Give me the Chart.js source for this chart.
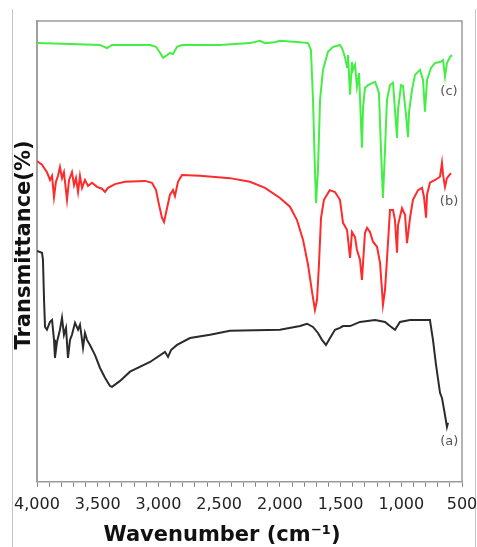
<!DOCTYPE html>
<html>
<head>
<meta charset="utf-8">
<script src="https://cdn.jsdelivr.net/npm/chart.js@4/dist/chart.umd.min.js"></script>
<style>
  body { margin: 0; background: #fff; }
  canvas { display: block; }
</style>
</head>
<body>
<canvas id="chart" width="477" height="547"></canvas>
<script>
// wavenumber (cm-1) and transmittance (arbitrary, no y ticks)
let waveA = [4000,3959,3951,3942,3934,3918,3893,3876,3860,3852,3835,3811,3794,3778,3761,3745,3728,3712,3687,3662,3646,3629,3621,3605,3588,3564,3522,3481,3440,3399,3382,3316,3234,3069,2946,2921,2896,2847,2740,2575,2411,1999,1834,1776,1727,1686,1653,1620,1587,1546,1505,1480,1422,1340,1216,1134,1093,1052,1011,928,764,739,714,681,665,640,624,615];
let transA = [50.1,49.7,48.2,39.5,33.6,33.0,34.7,35.1,30.8,26.9,30.4,33.0,35.6,31.9,33.4,26.9,30.8,31.9,34.5,33.0,34.1,30.8,29.1,32.3,30.8,29.7,27.5,24.7,22.6,20.8,20.6,21.9,23.9,26.0,28.2,27.1,28.6,29.7,31.2,31.9,32.8,33.0,33.8,34.3,33.6,32.3,30.8,29.7,31.2,33.0,33.4,33.8,33.8,34.7,35.1,34.7,33.8,33.0,34.7,35.1,35.1,30.8,25.4,19.3,18.2,14.5,11.9,12.8];

let waveB = [4000,3959,3918,3893,3876,3860,3844,3827,3811,3794,3778,3753,3736,3712,3695,3679,3662,3646,3629,3605,3580,3547,3506,3465,3440,3415,3358,3275,3111,3053,3020,2995,2971,2954,2929,2905,2880,2864,2839,2806,2658,2411,2246,2122,1999,1917,1859,1809,1768,1735,1711,1694,1678,1661,1637,1589,1546,1505,1480,1447,1422,1406,1381,1365,1340,1324,1299,1282,1258,1233,1200,1175,1159,1151,1134,1118,1093,1068,1052,1035,1027,994,969,953,928,904,862,829,813,796,788,764,722,681,665,656,640,624,591];
let transB = [69.6,68.8,67.2,65.5,66.4,61.8,65.1,66.4,68.3,65.9,67.2,61.2,65.5,67.2,64.4,65.9,62.9,66.4,63.8,65.5,64.2,64.9,64.0,63.6,62.9,63.8,64.6,65.1,65.3,64.9,63.3,60.1,57.3,56.4,59.4,62.3,63.3,62.0,65.1,66.6,66.4,65.9,65.1,63.8,61.6,59.7,56.8,52.5,47.1,41.2,37.3,39.5,47.1,57.3,61.2,63.3,62.9,61.2,56.2,54.7,48.6,54.2,53.1,50.3,48.2,43.8,54.0,55.1,54.2,52.1,51.0,47.5,41.6,38.4,41.6,48.2,59.0,59.0,56.8,49.7,55.7,59.4,57.9,51.8,57.3,61.2,63.3,63.8,61.8,57.3,62.3,64.9,65.5,66.2,69.2,66.6,64.0,65.9,67.0];

let waveC = [4000,3728,3481,3424,3382,3069,3020,2987,2962,2929,2905,2880,2847,2806,2493,2246,2164,2122,2040,2000,1834,1768,1744,1727,1711,1702,1686,1669,1645,1604,1562,1505,1488,1464,1447,1439,1422,1406,1398,1381,1365,1348,1324,1315,1299,1274,1216,1200,1184,1167,1151,1134,1118,1093,1068,1052,1035,1027,1002,986,961,945,936,912,887,846,821,805,788,755,722,681,656,640,624,599,582];
let transC = [95.2,95.0,94.8,94.1,94.8,94.8,94.4,93.1,92.0,92.6,93.1,92.8,94.4,94.8,94.8,95.2,95.7,95.2,95.4,95.7,95.4,95.2,93.7,82.9,67.7,60.5,67.7,82.9,89.4,93.3,94.4,94.8,94.1,92.2,90.0,92.6,84.0,91.1,89.4,90.5,85.7,88.7,72.5,81.3,85.5,86.1,86.8,85.7,84.4,72.0,61.6,72.0,82.9,86.1,86.6,80.7,74.6,80.7,86.1,85.9,79.6,74.8,80.3,85.0,88.3,89.4,87.2,80.3,87.2,89.8,90.9,91.1,91.5,87.9,90.9,92.2,92.6];

let seriesNames = ['(a)', '(b)', '(c)'];
let seriesColors = ['#2b2b2b', '#ff2a2a', '#44ee44'];
let labelWave = [605, 607, 607];
let labelTrans = [8.7, 60.7, 84.6];
let xTickStep = 100;
let xMajorStep = 500;

function pairs(xs, ys) {
    return xs.map((x, i) => ({x: x, y: ys[i]}));
}

let extras = {
    id: 'extras',
    beforeDraw(chart) {
        let ctx = chart.ctx;
        ctx.save();
        ctx.strokeStyle = '#c4c4c4';
        ctx.lineWidth = 1;
        ctx.beginPath();
        ctx.moveTo(12.5, 9); ctx.lineTo(12.5, 547);
        ctx.moveTo(475.5, 9); ctx.lineTo(475.5, 547);
        ctx.stroke();
        ctx.restore();
    },
    afterDraw(chart) {
        let ctx = chart.ctx;
        let a = chart.chartArea;
        let xs = chart.scales.x, ys = chart.scales.y;
        ctx.save();
        // top and right edge of the box
        ctx.strokeStyle = '#9a9a9a';
        ctx.lineWidth = 1.5;
        ctx.beginPath();
        ctx.moveTo(a.left, a.top); ctx.lineTo(a.right, a.top); ctx.lineTo(a.right, a.bottom);
        ctx.stroke();
        // series labels
        ctx.fillStyle = '#555';
        ctx.font = '13px "DejaVu Sans"';
        ctx.textAlign = 'center';
        ctx.textBaseline = 'middle';
        seriesNames.forEach((n, i) => {
            ctx.fillText(n, xs.getPixelForValue(labelWave[i]), ys.getPixelForValue(labelTrans[i]));
        });
        // axis titles
        ctx.fillStyle = '#111';
        ctx.font = 'bold 21px "DejaVu Sans"';
        ctx.fillText('Wavenumber (cm\u207B\u00B9)', 222, 536);
        ctx.translate(25, 245);
        ctx.rotate(-Math.PI / 2);
        ctx.fillText('Transmittance(%)', 0, 0);
        ctx.restore();
    }
};

let ctx = document.getElementById('chart').getContext('2d');
let chart = new Chart(ctx, {
    type: 'line',
    data: {
        datasets: [
            { label: seriesNames[0], data: pairs(waveA, transA), borderColor: seriesColors[0] },
            { label: seriesNames[1], data: pairs(waveB, transB), borderColor: seriesColors[1] },
            { label: seriesNames[2], data: pairs(waveC, transC), borderColor: seriesColors[2] }
        ]
    },
    options: {
        responsive: false,
        devicePixelRatio: 1,
        animation: false,
        events: [],
        datasets: { line: { borderWidth: 2, pointRadius: 0, tension: 0, fill: false } },
        layout: { padding: { top: 21, right: 15, bottom: 25, left: 37 } },
        plugins: { legend: { display: false }, tooltip: { enabled: false } },
        scales: {
            x: {
                type: 'linear',
                reverse: true,
                min: 500,
                max: 4000,
                // edge labels fit inside the layout padding already
                afterFit: (scale) => { scale.paddingLeft = 0; scale.paddingRight = 0; },
                grid: { drawOnChartArea: false, tickLength: 5, color: '#808080' },
                border: { color: '#9a9a9a', width: 1.5 },
                ticks: {
                    stepSize: xTickStep,
                    autoSkip: false,
                    maxRotation: 0,
                    padding: 8,
                    color: '#222',
                    font: { size: 16, family: '"DejaVu Sans"' },
                    callback: (v) => v % xMajorStep === 0 ? v.toLocaleString('en-US') : ''
                }
            },
            y: {
                min: 0,
                max: 100,
                grid: { display: false, drawTicks: false },
                border: { color: '#a0a0a0', width: 2 },
                ticks: { display: false }
            }
        }
    },
    plugins: [extras]
});
</script>
</body>
</html>
